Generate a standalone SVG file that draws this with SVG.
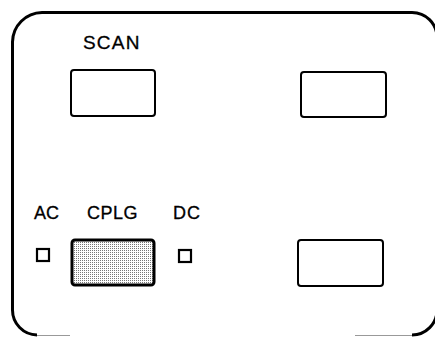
<svg xmlns="http://www.w3.org/2000/svg" width="435" height="337" viewBox="0 0 435 337">
<style>
.frame{fill:none;stroke:#000;stroke-width:3}
.thin{fill:none;stroke:#999;stroke-width:1}
.btn{fill:#fff;stroke:#000;stroke-width:2}
.sq{fill:#fff;stroke:#000;stroke-width:2.2}
.lbl{font-family:"Liberation Sans",Arial,sans-serif;fill:#000;stroke:#000;stroke-width:0.3}
</style>
<defs>
<pattern id="stip" width="2" height="2" patternUnits="userSpaceOnUse">
<rect width="2" height="2" fill="#fff"/>
<rect width="1" height="1" fill="#777"/>
</pattern>
</defs>
<rect width="435" height="337" fill="#fff"/>
<g id="frame">
<path class="frame" d="M 37,335 A 25,25 0 0 1 12.5,310 L 12.5,42 A 30,30 0 0 1 42,12.5 L 412,12.5 A 25,25 0 0 1 437,37 L 437,310 A 25,25 0 0 1 412,335"/>
<path class="thin" d="M 37,335.5 L 70,335.5 M 355,335.5 L 412,335.5"/>
</g>
<g id="scan">
<text class="lbl" x="83" y="49" font-size="19" letter-spacing="1.2">SCAN</text>
<rect class="btn" x="71" y="70" width="84" height="46" rx="3"/>
</g>
<g id="btn-top-right">
<rect class="btn" x="301" y="72" width="85" height="45" rx="3"/>
</g>
<g id="btn-bottom-right">
<rect class="btn" x="298" y="240" width="85" height="46" rx="3"/>
</g>
<g id="ac">
<text class="lbl" x="34" y="219" font-size="18" letter-spacing="0">AC</text>
<rect class="sq" x="37" y="249" width="12" height="12"/>
</g>
<g id="cplg">
<text class="lbl" x="87" y="219" font-size="18" letter-spacing="0.5">CPLG</text>
<rect x="72" y="240" width="82" height="45" rx="3" fill="url(#stip)" stroke="#000" stroke-width="3"/>
</g>
<g id="dc">
<text class="lbl" x="173" y="219" font-size="18" letter-spacing="1">DC</text>
<rect class="sq" x="179" y="250" width="12" height="12"/>
</g>
<g id="connectors"/>
</svg>
